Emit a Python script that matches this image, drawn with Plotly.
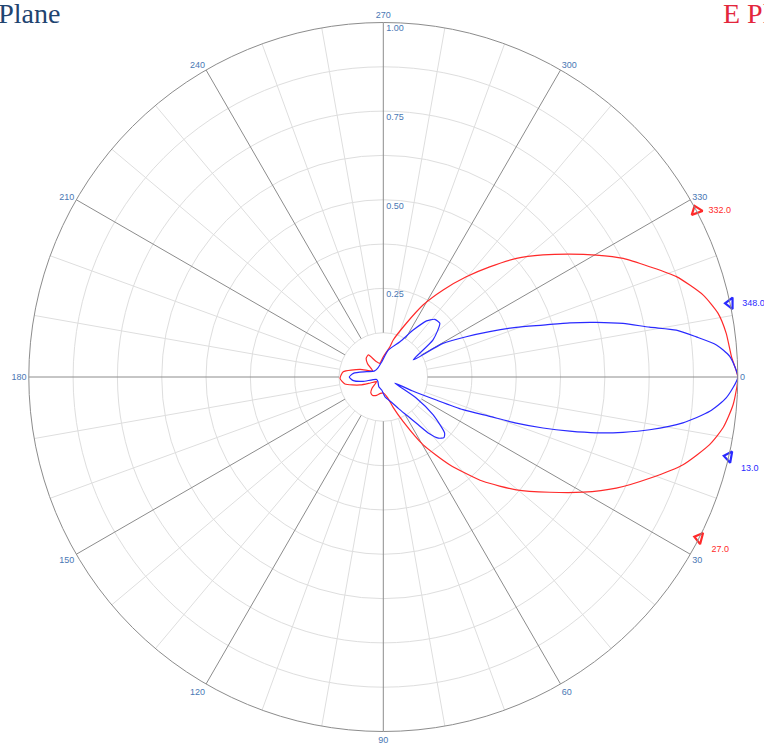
import plotly.graph_objects as go

# ---------------- data ----------------
# E Plane (red): angle in degrees (0 = right, clockwise), normalized amplitude
e_theta = [0, 4.5, 8.5, 11.7, 16.3, 20.8, 25.5, 30, 34.7, 40.3, 46.3, 52.9, 59.6, 66, 72, 78, 90,
           100, 110, 120, 128, 135, 145, 155, 161, 169.6, 178, 187.5, 198, 210, 220, 228, 236,
           244, 255, 270, 282.5, 285, 293.2, 298.9, 304.5, 309.6, 314, 318.3, 322.6, 326.6,
           330.2, 333.7, 337.5, 341.1, 345.6, 349.2, 352.7, 356.7, 360]
e_r = [1.0, 0.99, 0.969, 0.94, 0.881, 0.804, 0.728, 0.65, 0.571, 0.492, 0.407, 0.31, 0.221, 0.137,
       0.09, 0.06, 0.045, 0.047, 0.055, 0.06, 0.057, 0.045, 0.023, 0.04, 0.069, 0.11, 0.122, 0.114,
       0.069, 0.035, 0.058, 0.072, 0.075, 0.05, 0.04, 0.057, 0.088, 0.108, 0.165, 0.232, 0.298,
       0.367, 0.432, 0.503, 0.567, 0.63, 0.692, 0.755, 0.813, 0.874, 0.931, 0.961, 0.975, 0.984,
       1.0]

# H Plane (blue)
h_theta = [0, 3.5, 6, 8.7, 11.2, 13, 14.7, 16.2, 17.7, 19.1, 20.3, 22.3, 23.5, 25.5, 28,
           32.5, 37.2, 42.4, 45, 48, 51, 54, 58, 64, 72, 85, 97, 115, 140, 160, 168, 173, 180,
           187, 197.7, 215, 240, 264, 280.5, 295.3, 302.5, 307.6, 309.1, 311.7, 316.4, 323.3,
           330.2, 330.6, 334.1, 336.9, 339.5, 342, 343.8, 345.6, 347.4, 349.4, 350.9, 352.7,
           354.5, 356.6, 360]
h_r = [1.0, 0.969, 0.926, 0.855, 0.766, 0.694, 0.621, 0.548, 0.473, 0.397, 0.32, 0.243, 0.163,
       0.09, 0.037, 0.11, 0.176, 0.234, 0.242, 0.232, 0.205, 0.165, 0.13, 0.1, 0.075, 0.056, 0.037,
       0.03, 0.02, 0.02, 0.06, 0.085, 0.096, 0.085, 0.049, 0.03, 0.03, 0.043, 0.077, 0.11, 0.157,
       0.2, 0.207, 0.218, 0.22, 0.175, 0.097, 0.193, 0.26, 0.326, 0.4, 0.474, 0.548, 0.62, 0.693,
       0.764, 0.837, 0.89, 0.944, 0.979, 1.0]

# half-power beamwidth markers
e_hpbw = [332.0, 27.0]
h_hpbw = [348.0, 13.0]

angle_ticks = list(range(0, 360, 30))
radial_ticks = [0.125, 0.25, 0.375, 0.5, 0.625, 0.75, 0.875, 1.0]
radial_text = ["", "0.25", "", "0.50", "", "0.75", "", "1.00"]

# ---------------- figure ----------------
LIGHT = "#dedede"
DARK = "#8c8c8c"
TICK = "#4a78b4"
RED = "#ff2a2a"
BLUE = "#2a2aff"

fig = go.Figure()

inner = radial_ticks[0]
minor_t, minor_r, major_t, major_r = [], [], [], []
for a in range(0, 360, 10):
    if a % 30 == 0:
        major_t += [a, a, None]
        major_r += [inner, 1.0, None]
    else:
        minor_t += [a, a, None]
        minor_r += [inner, 1.0, None]

fig.add_trace(go.Scatterpolar(r=minor_r, theta=minor_t, mode="lines",
                              line=dict(color=LIGHT, width=1), hoverinfo="skip",
                              showlegend=False))
fig.add_trace(go.Scatterpolar(r=major_r, theta=major_t, mode="lines",
                              line=dict(color=DARK, width=1), hoverinfo="skip",
                              showlegend=False))

fig.add_trace(go.Scatterpolar(r=e_r, theta=e_theta, mode="lines", name="E Plane",
                              line=dict(color=RED, width=1.2, shape="spline", smoothing=0.6),
                              showlegend=False))
fig.add_trace(go.Scatterpolar(r=h_r, theta=h_theta, mode="lines", name="H Plane",
                              line=dict(color=BLUE, width=1.2, shape="spline", smoothing=0.6),
                              showlegend=False))

fig.add_trace(go.Scatterpolar(
    r=[1.0] * len(e_hpbw), theta=e_hpbw, mode="markers+text",
    text=[f"  {v:.1f}" for v in e_hpbw], textposition=["middle right", "bottom right"],
    textfont=dict(color=RED, size=9, family="Liberation Sans"),
    marker=dict(symbol=["triangle-up-open", "triangle-left-open"], size=10, angle=[-20, 15],
                color=RED, line=dict(color=RED, width=2.2)),
    cliponaxis=False, showlegend=False))
fig.add_trace(go.Scatterpolar(
    r=[1.0] * len(h_hpbw), theta=h_hpbw, mode="markers+text",
    text=[f"  {v:.1f}" for v in h_hpbw], textposition=["middle right", "bottom right"],
    textfont=dict(color=BLUE, size=9, family="Liberation Sans"),
    marker=dict(symbol="triangle-left-open", size=10, angle=[0, 10],
                color=BLUE, line=dict(color=BLUE, width=2.2)),
    cliponaxis=False, showlegend=False))

W, H = 764, 745
cx, cy, R = 383.3, 377.0, 354.5
fig.update_layout(
    width=W, height=H,
    margin=dict(l=0, r=0, t=0, b=0),
    paper_bgcolor="white",
    font=dict(family="Liberation Sans", size=9, color=TICK),
    polar=dict(
        domain=dict(x=[(cx - R) / W, (cx + R) / W],
                    y=[(H - cy - R) / H, (H - cy + R) / H]),
        bgcolor="white",
        angularaxis=dict(rotation=0, direction="clockwise", tickmode="array",
                         tickvals=angle_ticks, ticktext=[str(a) for a in angle_ticks],
                         showgrid=False, showline=True, linecolor=DARK, linewidth=1,
                         ticks="", tickfont=dict(size=9, color=TICK)),
        radialaxis=dict(range=[0, 1.0], tickmode="array", tickvals=radial_ticks,
                        ticktext=[(" <br> " + t) if t else "" for t in radial_text],
                        angle=90, tickangle=90, showline=False, ticks="",
                        showgrid=True, gridcolor=LIGHT, gridwidth=1,
                        tickfont=dict(size=9, color=TICK)),
    ),
    annotations=[
        dict(text="H Plane", xref="paper", yref="paper", x=62 / W, y=1 - 14 / H,
             xanchor="right", yanchor="middle", showarrow=False,
             font=dict(family="Liberation Serif", size=28, color="#1f4470")),
        dict(text="E Plane", xref="paper", yref="paper", x=721 / W, y=1 - 14 / H,
             xanchor="left", yanchor="middle", showarrow=False,
             font=dict(family="Liberation Serif", size=28, color="#e3263c")),
    ],
)

fig.write_html("out.html", config={"displayModeBar": False},
               post_script="document.body.style.margin='0';document.body.style.overflow='hidden';")
